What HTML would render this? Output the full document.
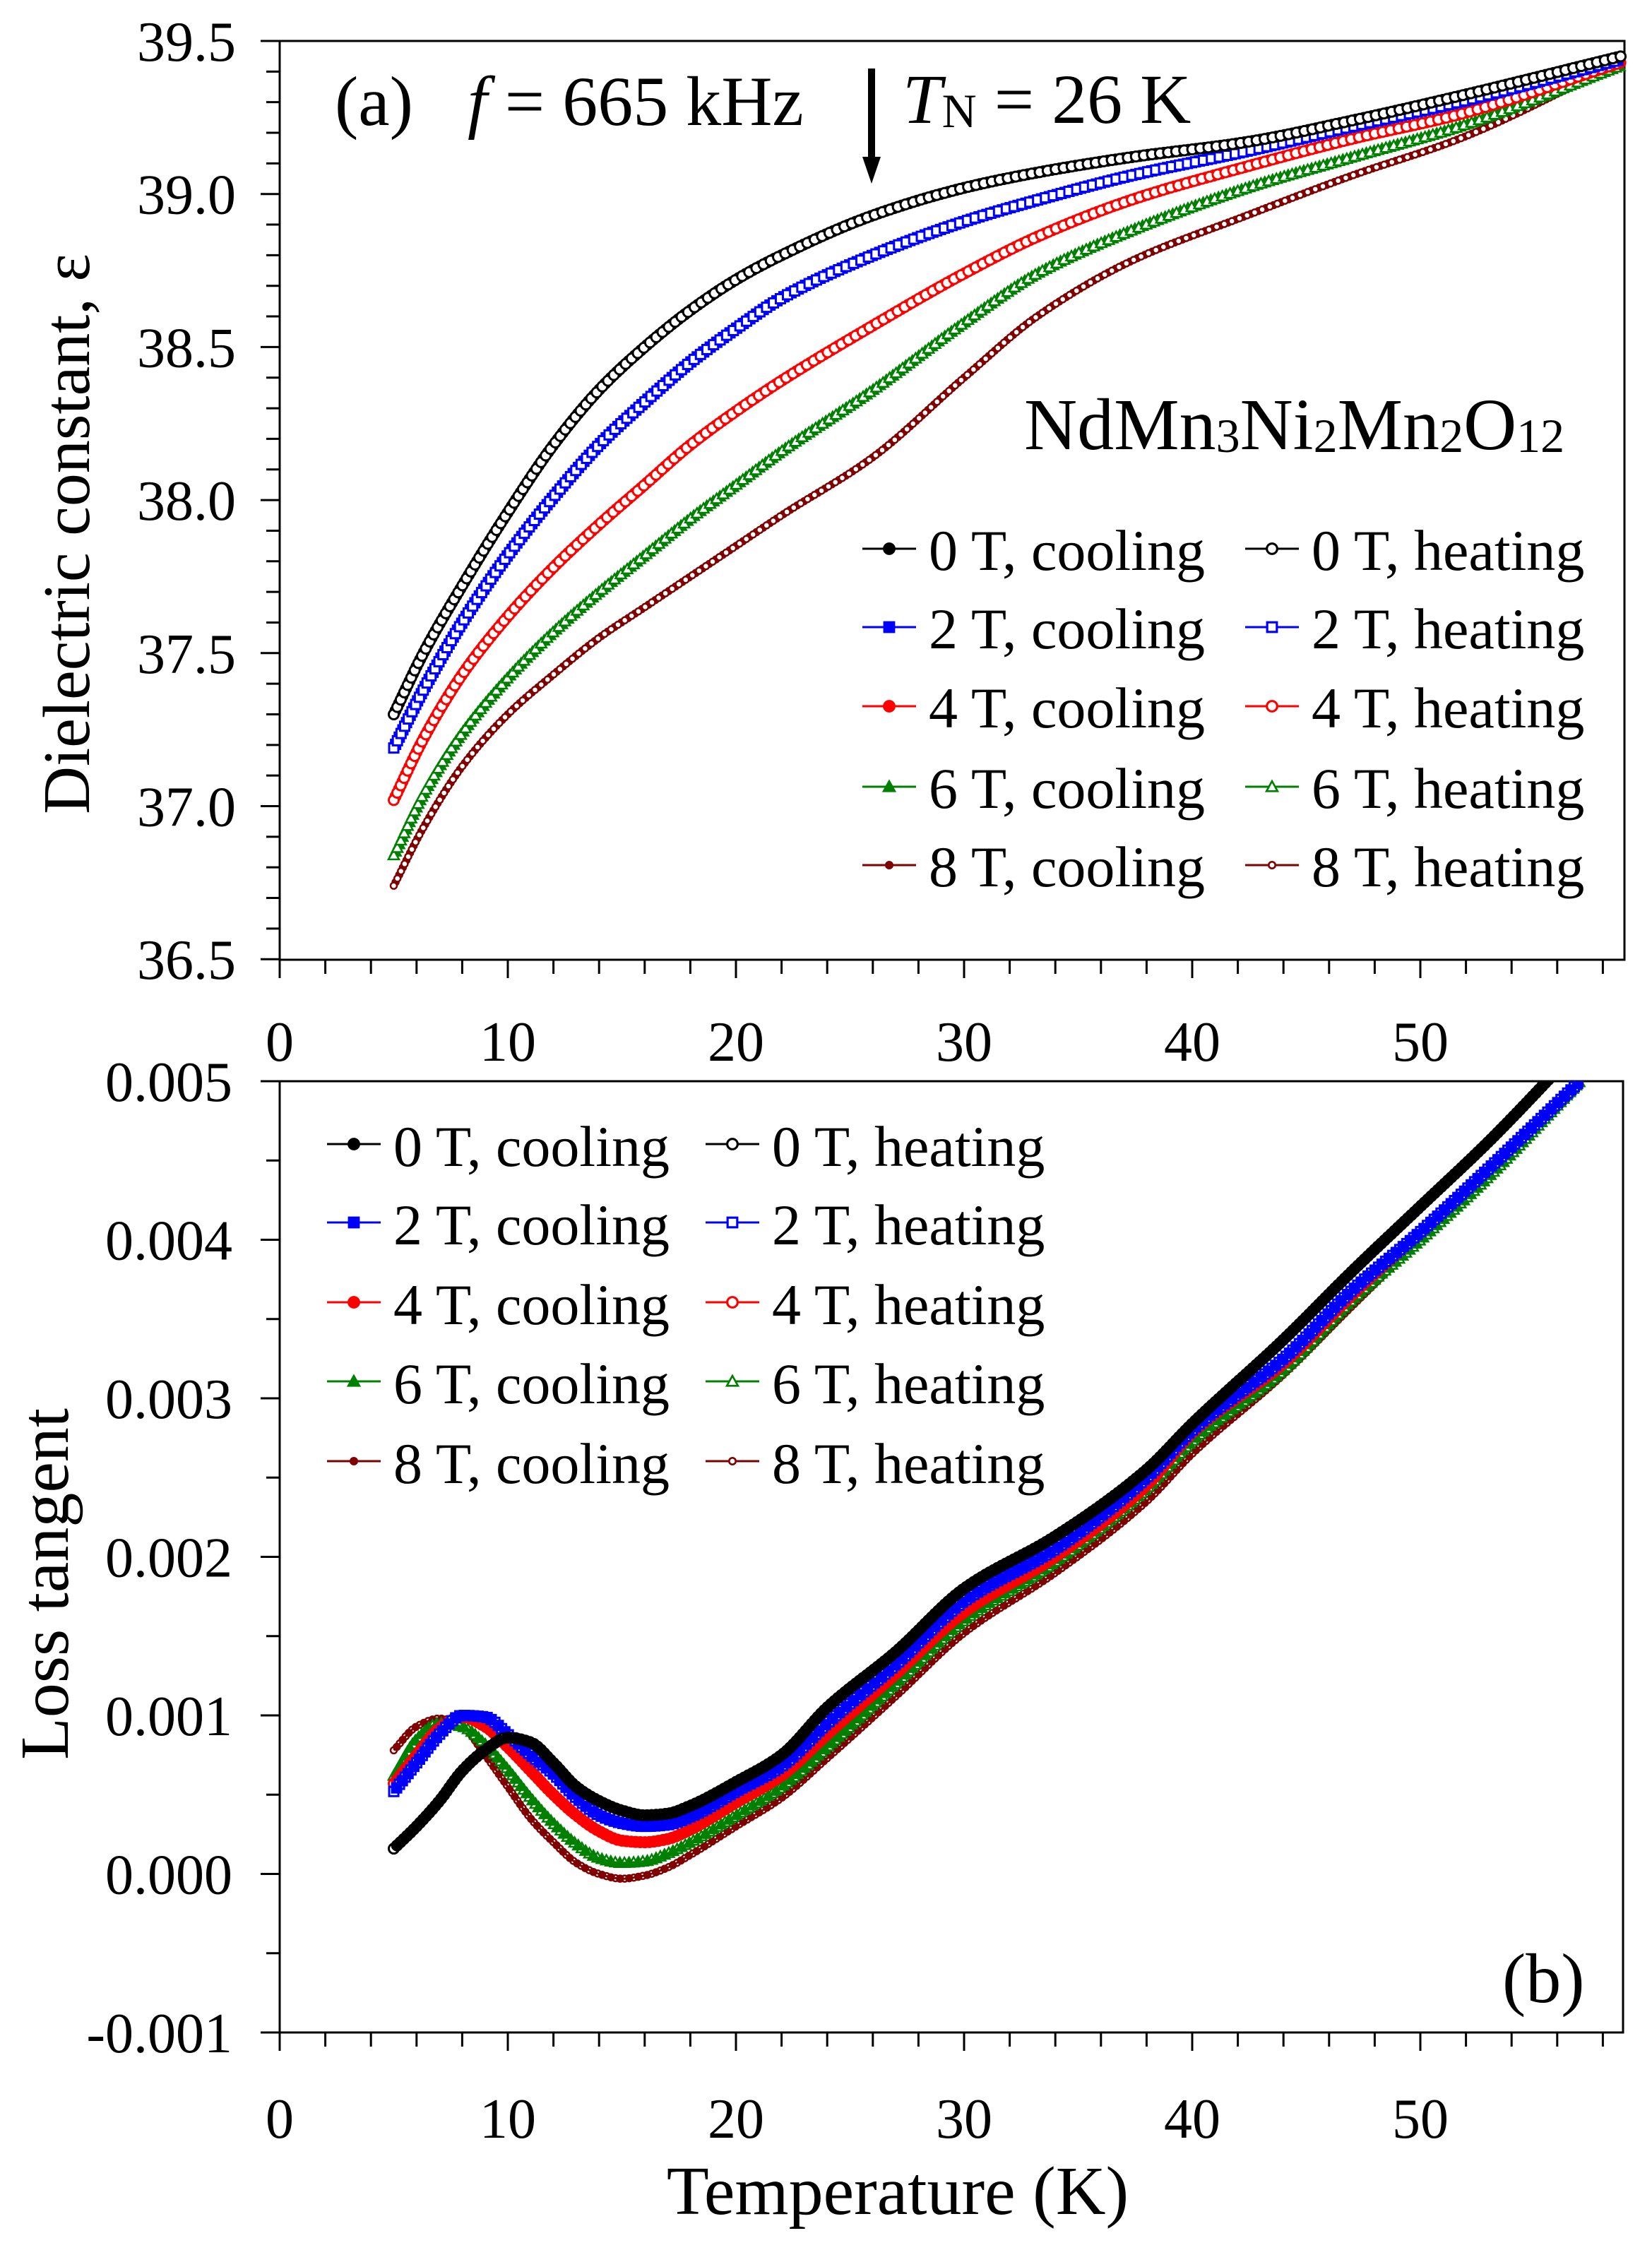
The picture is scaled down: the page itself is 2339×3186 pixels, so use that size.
<!DOCTYPE html>
<html><head><meta charset="utf-8"><title>NdMn3Ni2Mn2O12 dielectric</title>
<style>html,body{margin:0;padding:0;background:#fff}svg{display:block}text{font-family:"Liberation Serif","DejaVu Serif",serif;fill:#000}</style>
</head><body>
<svg id="fig" xmlns="http://www.w3.org/2000/svg" width="2339" height="3186" viewBox="0 0 2339 3186" font-family="Liberation Serif, serif">
<defs>
<clipPath id="clipA"><rect x="396" y="40" width="1920" height="1319"/></clipPath>
<clipPath id="clipB"><rect x="396" y="1531" width="1904" height="1347"/></clipPath>
</defs>
<g id="axesA"></g>
<g id="axesB"></g>
<g id="dataA" clip-path="url(#clipA)"></g>
<g id="dataB" clip-path="url(#clipB)"></g>
<g id="legA"></g>
<g id="legB"></g>

<text transform="translate(126,756) rotate(-90)" text-anchor="middle" font-size="94">Dielectric constant, ε</text>
<text transform="translate(96,2243) rotate(-90)" text-anchor="middle" font-size="98">Loss tangent</text>
<text x="1271" y="3135" text-anchor="middle" font-size="98">Temperature (K)</text>
<text x="474" y="177" font-size="100">(a)</text>
<text x="662" y="177" font-size="100"><tspan font-style="italic">f</tspan> = 665 kHz</text>
<text x="1278" y="174" font-size="100"><tspan font-style="italic">T</tspan><tspan font-size="68" dy="6">N</tspan><tspan dy="-6"> = 26 K</tspan></text>
<g>
<rect x="1229" y="97" width="10" height="130" fill="#000"/>
<polygon points="1221,222 1247,222 1234,260" fill="#000"/>
</g>
<text x="1450" y="636" font-size="104">NdMn<tspan font-size="68" dy="4">3</tspan><tspan dy="-4">Ni</tspan><tspan font-size="68" dy="4">2</tspan><tspan dy="-4">Mn</tspan><tspan font-size="68" dy="4">2</tspan><tspan dy="-4">O</tspan><tspan font-size="68" dy="4">12</tspan></text>
<text x="2127" y="2835" font-size="100">(b)</text>
</svg>
<script>
// ---------- data (panel a: dielectric constant) ----------
const tempsA = [5, 6.3, 8, 10, 12, 14, 16, 18, 20, 22, 26, 30, 33.2, 37.3, 42.4, 47, 51.7, 58.8];
const eps0T = [37.30, 37.50, 37.72, 37.96, 38.18, 38.36, 38.50, 38.62, 38.72, 38.80, 38.93, 39.02, 39.07, 39.12, 39.17, 39.24, 39.32, 39.45];
const eps2T = [37.19, 37.38, 37.60, 37.82, 38.01, 38.18, 38.32, 38.45, 38.56, 38.66, 38.80, 38.91, 38.98, 39.06, 39.14, 39.22, 39.30, 39.44];
const eps4T = [37.02, 37.22, 37.43, 37.62, 37.78, 37.92, 38.05, 38.18, 38.29, 38.39, 38.57, 38.74, 38.86, 38.98, 39.09, 39.18, 39.26, 39.43];
const eps6T = [36.84, 37.04, 37.24, 37.42, 37.57, 37.70, 37.82, 37.94, 38.05, 38.16, 38.36, 38.58, 38.74, 38.88, 39.02, 39.12, 39.22, 39.42];
const eps8T = [36.74, 36.93, 37.13, 37.30, 37.43, 37.55, 37.65, 37.75, 37.85, 37.95, 38.14, 38.40, 38.60, 38.78, 38.93, 39.06, 39.18, 39.43];
// ---------- data (panel b: loss tangent) ----------
const tempsB = [5, 6, 7, 8, 9, 10, 11, 12, 13, 14, 15, 16, 17, 18, 20, 22, 24, 27, 30, 34, 38, 40, 44, 47, 50, 53, 57];
const tan0T = [0.00016, 0.0003, 0.00046, 0.00065, 0.00078, 0.00086, 0.00083, 0.0007, 0.00055, 0.00046, 0.0004, 0.00037, 0.00038, 0.00043, 0.00058, 0.00075, 0.00105, 0.0014, 0.0018, 0.00213, 0.00255, 0.00284, 0.00337, 0.0038, 0.00421, 0.00462, 0.00522];
const tan2T = [0.00052, 0.0007, 0.00088, 0.001, 0.00099, 0.00088, 0.00075, 0.00063, 0.00048, 0.00037, 0.00032, 0.0003, 0.00031, 0.00036, 0.00052, 0.00068, 0.00095, 0.00132, 0.00172, 0.00205, 0.0025, 0.0028, 0.00325, 0.00368, 0.00405, 0.00445, 0.005];
const tan4T = [0.00057, 0.00075, 0.00092, 0.00099, 0.00093, 0.0008, 0.00065, 0.0005, 0.00037, 0.00027, 0.00021, 0.0002, 0.00022, 0.00028, 0.00045, 0.00062, 0.00088, 0.00126, 0.00165, 0.002, 0.00245, 0.00278, 0.00322, 0.00365, 0.00405, 0.00445, 0.005];
const tan6T = [0.00062, 0.00085, 0.00095, 0.00093, 0.00082, 0.00066, 0.00048, 0.00032, 0.00019, 0.0001, 0.00007, 0.00008, 0.00013, 0.0002, 0.00037, 0.00055, 0.0008, 0.0012, 0.0016, 0.00197, 0.00243, 0.00273, 0.00318, 0.00362, 0.004, 0.0044, 0.005];
const tan8T = [0.00078, 0.00093, 0.00098, 0.00093, 0.00075, 0.00055, 0.00035, 0.0002, 0.00007, 0.0, -0.00003, -0.00001, 0.00004, 0.00012, 0.0003, 0.00048, 0.00073, 0.00112, 0.00152, 0.0019, 0.00235, 0.00265, 0.00315, 0.00358, 0.004, 0.0044, 0.005];
// ---------- ticks / labels ----------
const xTickLabels = ["0", "10", "20", "30", "40", "50"];
const yTickLabelsA = ["36.5", "37.0", "37.5", "38.0", "38.5", "39.0", "39.5"];
const yTickLabelsB = ["-0.001", "0.000", "0.001", "0.002", "0.003", "0.004", "0.005"];
const fieldNames = ["0 T", "2 T", "4 T", "6 T", "8 T"];
const fieldColors = ["#000000", "#0000ff", "#ff0000", "#008000", "#800000"];
const fieldShapes = ["circle", "square", "circle", "triangle", "smallcircle"];

const NS = "http://www.w3.org/2000/svg";
function mk(tag, attrs, parent) {
  const e = document.createElementNS(NS, tag);
  for (const k in attrs) e.setAttribute(k, attrs[k]);
  if (parent) parent.appendChild(e);
  return e;
}
const X0 = 396, XPX = 32.3;
function xS(t) { return X0 + t * XPX; }
function yA(v) { return 58 + (39.5 - v) / 0.5 * 216.7; }
function yB(v) { return 2878 - (v + 0.001) / 0.001 * 224.5; }

function axes(g, yTop, yBot, xRight, yFn, yLabels, yMin, yStep, minorStep, labelRight, xLabelBase, pname) {
  const frame = mk('path', {d: `M${X0},${yTop} L${xRight},${yTop} L${xRight},${yBot} L${X0},${yBot} Z`, fill: 'none', stroke: '#000', 'stroke-width': 3}, g);
  
  
  for (let i = 0; i < yLabels.length; i++) {
    const v = yMin + i * yStep, y = yFn(v);
    const tk = mk('line', {x1: X0 - 27, x2: X0, y1: y, y2: y, stroke: '#000', 'stroke-width': 3}, g);
    
    
    const tx = mk('text', {x: labelRight, y: y + 28, 'text-anchor': 'end', 'font-size': 80}, g);
    tx.textContent = yLabels[i];
    
    
    if (i < yLabels.length - 1) {
      for (let m = 1; m * minorStep < yStep - 1e-9; m++) {
        const ym = yFn(v + m * minorStep);
        const mt = mk('line', {x1: X0 - 19, x2: X0, y1: ym, y2: ym, stroke: '#000', 'stroke-width': 3}, g);
        
        
      }
    }
  }
  for (let t = 0; t <= 58; t += 2) {
    const major = t % 10 === 0;
    const xt = mk('line', {x1: xS(t), x2: xS(t), y1: yBot, y2: yBot + (major ? 26 : 20), stroke: '#000', 'stroke-width': 3}, g);
    
    
  }
  for (let i = 0; i < xTickLabels.length; i++) {
    const tx = mk('text', {x: xS(i * 10), y: xLabelBase, 'text-anchor': 'middle', 'font-size': 80}, g);
    tx.textContent = xTickLabels[i];
    
    
  }
}
axes(document.getElementById('axesA'), 58, 1359, 2300, yA, yTickLabelsA, 36.5, 0.5, 0.1, 334, 1502, 'panel-a');
axes(document.getElementById('axesB'), 1531, 2878, 2298, yB, yTickLabelsB, -0.001, 0.001, 0.0005, 329, 3027, 'panel-b');

function marker(g, shape, x, y, color, filled, scale) {
  const fill = filled ? color : '#fff';
  const sw = 3 * scale;
  let e;
  if (shape === 'circle') e = mk('circle', {cx: x, cy: y, r: 7 * scale, fill, stroke: color, 'stroke-width': sw}, g);
  else if (shape === 'smallcircle') e = mk('circle', {cx: x, cy: y, r: 4.5 * scale, fill, stroke: color, 'stroke-width': 2.5 * scale}, g);
  else if (shape === 'square') { const s = 6.5 * scale; e = mk('rect', {x: x - s, y: y - s, width: 2 * s, height: 2 * s, fill, stroke: color, 'stroke-width': sw}, g); }
  else { const s = 7.5 * scale; e = mk('polygon', {points: `${x},${y - s} ${x + s},${y + s * 0.8} ${x - s},${y + s * 0.8}`, fill, stroke: color, 'stroke-width': 2.5 * scale}, g); }
  return e;
}
function monoPath(pts) {
  const n = pts.length, dx = [], m = [], t = new Array(n);
  for (let i = 0; i < n - 1; i++) { dx.push(pts[i + 1][0] - pts[i][0]); m.push((pts[i + 1][1] - pts[i][1]) / dx[i]); }
  t[0] = m[0]; t[n - 1] = m[n - 2];
  for (let i = 1; i < n - 1; i++) t[i] = (m[i - 1] * m[i] <= 0) ? 0 : 3 * (dx[i - 1] + dx[i]) / ((2 * dx[i] + dx[i - 1]) / m[i - 1] + (dx[i] + 2 * dx[i - 1]) / m[i]);
  let d = `M${pts[0][0]},${pts[0][1]}`;
  for (let i = 0; i < n - 1; i++) {
    const h = dx[i] / 3;
    d += ` C${pts[i][0] + h},${pts[i][1] + t[i] * h} ${pts[i + 1][0] - h},${pts[i + 1][1] - t[i + 1] * h} ${pts[i + 1][0]},${pts[i + 1][1]}`;
  }
  return d;
}
function series(g, temps, vals, yFn, idx, mode, spacing, scale, pname) {
  const color = fieldColors[idx];
  const pts = temps.map((t, i) => [xS(t), yFn(vals[i])]);
  const grp = mk('g', {}, g);
  
  
  const path = mk('path', {d: monoPath(pts), fill: 'none', stroke: color, 'stroke-width': 3}, grp);
  
  
  const L = path.getTotalLength();
  const off = mode === 'cooling' ? spacing / 2 : 0;
  for (let s = off; s <= L; s += spacing) {
    const p = path.getPointAtLength(s);
    const m = marker(grp, fieldShapes[idx], p.x, p.y, color, mode === 'cooling', scale);
    
    
  }
}
const dA = document.getElementById('dataA'), dB = document.getElementById('dataB');
const epsSeries = [eps0T, eps2T, eps4T, eps6T, eps8T];
const tanSeries = [tan0T, tan2T, tan4T, tan6T, tan8T];
for (let i = 4; i >= 0; i--) {
  series(dA, tempsA, epsSeries[i], yA, i, 'cooling', 11.5, 1, 'panel-a');
  series(dA, tempsA, epsSeries[i], yA, i, 'heating', 11.5, 1, 'panel-a');
}
for (let i = 4; i >= 0; i--) {
  series(dB, tempsB, tanSeries[i], yB, i, 'heating', 13, 1.0, 'panel-b');
  series(dB, tempsB, tanSeries[i], yB, i, 'cooling', 13, 1.0, 'panel-b');
}

function legend(g, rows, c1Line, c2Line, baseOff) {
  for (let i = 0; i < 5; i++) {
    const y = rows[i];
    [[c1Line, 'cooling', true], [c2Line, 'heating', false]].forEach(([lx, mode, filled]) => {
      const ent = mk('g', {}, g);
      
      
      mk('line', {x1: lx, x2: lx + 76, y1: y, y2: y, stroke: fieldColors[i], 'stroke-width': 3}, ent);
      marker(ent, fieldShapes[i], lx + 38, y, fieldColors[i], filled, 1.05);
      const t = mk('text', {x: lx + 94, y: y + baseOff, 'font-size': 82}, ent);
      t.textContent = fieldNames[i] + ', ' + mode;
    });
  }
}
legend(document.getElementById('legA'), [777, 888, 1000, 1114, 1225], 1221, 1763, 30);
legend(document.getElementById('legB'), [1620, 1731, 1844, 1956, 2069], 463, 999, 31);
</script>
</body></html>
